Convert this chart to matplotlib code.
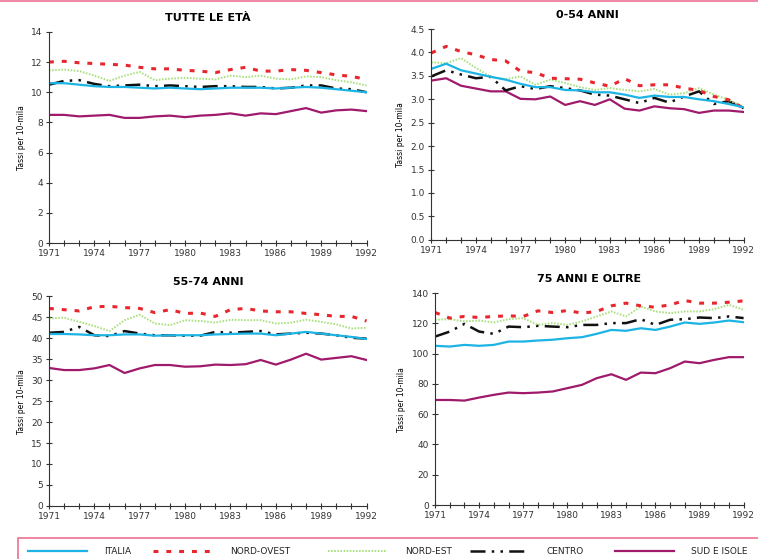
import numpy as np
import matplotlib.pyplot as plt
from matplotlib.lines import Line2D
from matplotlib.patches import Rectangle

anni = np.arange(1971, 1993)

# Tutte le eta'
tutte_italia = [10.6, 10.6, 10.5, 10.4, 10.35, 10.35, 10.3, 10.25, 10.3, 10.25, 10.2,
                10.25, 10.3, 10.3, 10.3, 10.25, 10.3, 10.35, 10.3, 10.2, 10.1, 10.0]
tutte_nordovest = [12.0, 12.05, 11.95, 11.9, 11.85, 11.8, 11.65, 11.55, 11.55, 11.45, 11.4,
                   11.3, 11.5, 11.65, 11.4, 11.4, 11.5, 11.45, 11.3, 11.15, 11.05, 10.85]
tutte_nordest = [11.45, 11.5, 11.4, 11.1, 10.75, 11.1, 11.35, 10.8, 10.9, 10.95, 10.9,
                 10.85, 11.1, 11.0, 11.1, 10.9, 10.85, 11.05, 11.0, 10.8, 10.65, 10.45]
tutte_centro = [10.5, 10.75, 10.8, 10.55, 10.4, 10.45, 10.5, 10.4, 10.45, 10.4, 10.35,
                10.4, 10.4, 10.35, 10.35, 10.25, 10.3, 10.45, 10.45, 10.25, 10.2, 10.0]
tutte_sud = [8.5, 8.5, 8.4, 8.45, 8.5, 8.3, 8.3, 8.4, 8.45, 8.35, 8.45,
             8.5, 8.6, 8.45, 8.6, 8.55, 8.75, 8.95, 8.65, 8.8, 8.85, 8.75]

# 0-54 anni
g054_italia = [3.65, 3.76, 3.62, 3.55, 3.48, 3.42, 3.33, 3.26, 3.26, 3.2, 3.19,
               3.15, 3.15, 3.1, 3.03, 3.08, 3.05, 3.05, 3.0, 2.96, 2.9, 2.83]
g054_nordovest = [3.99, 4.13, 4.02, 3.95, 3.85, 3.82, 3.6, 3.57, 3.45, 3.44, 3.43,
                  3.35, 3.28, 3.44, 3.29, 3.31, 3.31, 3.24, 3.19, 3.06, 2.99, 2.81]
g054_nordest = [3.79, 3.77, 3.88, 3.67, 3.48, 3.43, 3.49, 3.31, 3.42, 3.35, 3.26,
                3.2, 3.24, 3.2, 3.17, 3.22, 3.1, 3.13, 3.24, 3.1, 2.99, 2.83]
g054_centro = [3.49, 3.62, 3.53, 3.45, 3.48, 3.19, 3.28, 3.22, 3.28, 3.24, 3.19,
               3.1, 3.08, 3.0, 2.92, 3.03, 2.93, 3.06, 3.17, 2.9, 2.96, 2.81]
g054_sud = [3.4, 3.45, 3.29, 3.23, 3.17, 3.17, 3.01, 3.0, 3.06, 2.88, 2.96,
            2.88, 3.0, 2.8, 2.76, 2.85, 2.81, 2.79, 2.71, 2.76, 2.76, 2.73]

# 55-74 anni
g5574_italia = [41.0, 41.0, 40.9, 40.7, 40.7, 40.9, 40.9, 40.6, 40.7, 40.7, 40.7,
                40.9, 41.0, 41.1, 41.1, 40.7, 41.1, 41.5, 41.1, 40.7, 40.3, 39.8]
g5574_nordovest = [47.1, 46.8, 46.5, 47.5, 47.6, 47.3, 47.1, 46.1, 46.8, 45.9, 46.0,
                   45.2, 46.8, 47.1, 46.5, 46.3, 46.3, 45.9, 45.6, 45.2, 45.2, 44.1]
g5574_nordest = [44.7, 44.9, 43.9, 42.9, 41.7, 44.3, 45.6, 43.5, 43.1, 44.3, 44.1,
                 43.7, 44.4, 44.3, 44.3, 43.5, 43.7, 44.4, 43.9, 43.3, 42.3, 42.5]
g5574_centro = [41.3, 41.5, 42.7, 40.7, 40.5, 41.7, 41.1, 40.7, 40.7, 40.6, 40.6,
                41.5, 41.3, 41.5, 41.7, 40.9, 41.1, 41.3, 41.1, 40.7, 40.1, 39.9]
g5574_sud = [32.9, 32.4, 32.4, 32.8, 33.6, 31.7, 32.8, 33.6, 33.6, 33.2, 33.3,
             33.7, 33.6, 33.8, 34.8, 33.7, 34.9, 36.3, 34.9, 35.3, 35.7, 34.8]

# 75 anni e oltre
g75_italia = [105.2, 104.7, 105.8, 105.2, 105.8, 108.0, 108.0, 108.7, 109.2, 110.2, 110.9,
              113.1, 115.7, 115.1, 116.8, 115.7, 117.9, 120.6, 119.7, 120.6, 121.9, 120.8]
g75_nordovest = [127.2, 123.5, 124.6, 123.9, 124.6, 125.0, 124.6, 128.3, 127.2, 128.5, 126.8,
                 127.9, 131.6, 133.4, 131.6, 130.7, 132.3, 135.1, 133.4, 133.4, 134.0, 134.9]
g75_nordest = [122.4, 122.8, 121.3, 121.9, 120.6, 122.8, 123.5, 119.0, 120.2, 119.0, 121.3,
               124.6, 127.9, 124.6, 131.2, 127.9, 126.8, 127.9, 127.9, 129.4, 132.3, 129.0]
g75_centro = [111.3, 114.6, 119.7, 114.6, 113.1, 117.9, 117.5, 118.4, 117.9, 117.5, 119.0,
              119.0, 120.2, 120.2, 122.8, 119.0, 122.4, 122.8, 123.9, 123.5, 124.6, 123.5]
g75_sud = [69.4, 69.4, 69.0, 71.0, 72.8, 74.3, 73.9, 74.3, 75.0, 77.2, 79.4,
           83.8, 86.4, 82.7, 87.5, 87.1, 90.4, 94.8, 93.7, 95.9, 97.7, 97.7]

regioni = ["ITALIA", "NORD-OVEST", "NORD-EST", "CENTRO", "SUD E ISOLE"]
stili = [
    dict(color="#1cb4e4", lw=1.6, ls="-"),
    dict(color="#e8262e", lw=2.2, ls=(0, (1.6, 2.6))),
    dict(color="#a6e07a", lw=1.4, ls=(0, (0.8, 0.8))),
    dict(color="#111111", lw=1.8, ls=(0, (6, 2.5, 1, 2.5, 1, 2.5))),
    dict(color="#a01a6c", lw=1.6, ls="-"),
]

pannelli = [
    ("TUTTE LE ETÀ", [tutte_italia, tutte_nordovest, tutte_nordest, tutte_centro, tutte_sud],
     14, np.arange(0, 15, 2), [0.0646, 0.565, 0.419, 0.378], "{:.0f}"),
    ("0-54 ANNI", [g054_italia, g054_nordovest, g054_nordest, g054_centro, g054_sud],
     4.5, np.arange(0, 4.6, 0.5), [0.569, 0.571, 0.412, 0.377], "{:.1f}"),
    ("55-74 ANNI", [g5574_italia, g5574_nordovest, g5574_nordest, g5574_centro, g5574_sud],
     50, np.arange(0, 51, 5), [0.0646, 0.095, 0.419, 0.375], "{:.0f}"),
    ("75 ANNI E OLTRE", [g75_italia, g75_nordovest, g75_nordest, g75_centro, g75_sud],
     140, np.arange(0, 141, 20), [0.574, 0.0966, 0.407, 0.379], "{:.0f}"),
]

fig = plt.figure(figsize=(7.58, 5.59), dpi=100)

for titolo, serie, ymax, yt, pos, fmt in pannelli:
    ax = fig.add_axes(pos)
    for valori, st in zip(serie[::-1], stili[::-1]):
        ax.plot(anni, valori, **st)
    ax.set_xlim(1971, 1992)
    ax.set_ylim(0, ymax)
    ax.set_xticks(anni)
    ax.set_xticklabels([str(a) if (a - 1971) % 3 == 0 else "" for a in anni])
    ax.set_yticks(yt)
    ax.set_yticklabels([fmt.format(v) for v in yt])
    ax.tick_params(direction="inout", length=5, width=0.8, labelsize=6.5,
                   colors="#333333", pad=2)
    for s in ("top", "right"):
        ax.spines[s].set_visible(False)
    for s in ("left", "bottom"):
        ax.spines[s].set_color("#333333")
    ax.set_title(titolo, fontsize=8, fontweight="bold", pad=8)
    ax.set_ylabel("Tassi per 10-mila", fontsize=5.5, labelpad=4)

# bordo superiore e riquadro della legenda
fig.add_artist(Rectangle((0, 0.996), 1, 0.004, transform=fig.transFigure,
                         color="#f08aa8", lw=0))
fig.add_artist(Rectangle((0.024, -0.01), 0.99, 0.048, transform=fig.transFigure,
                         facecolor="white", edgecolor="#f07090", lw=1.2))

# voci della legenda: segmento di linea + etichetta
x_voci = [0.037, 0.202, 0.433, 0.620, 0.811]
for x0, nome, st in zip(x_voci, regioni, stili):
    fig.add_artist(Line2D([x0, x0 + 0.078], [0.014, 0.014],
                          transform=fig.transFigure, **st))
    fig.text(x0 + 0.101, 0.014, nome, fontsize=6.5, va="center", ha="left",
             family=["Liberation Sans Narrow", "DejaVu Sans"], color="#222222")

fig.savefig("out.png", dpi=100)
